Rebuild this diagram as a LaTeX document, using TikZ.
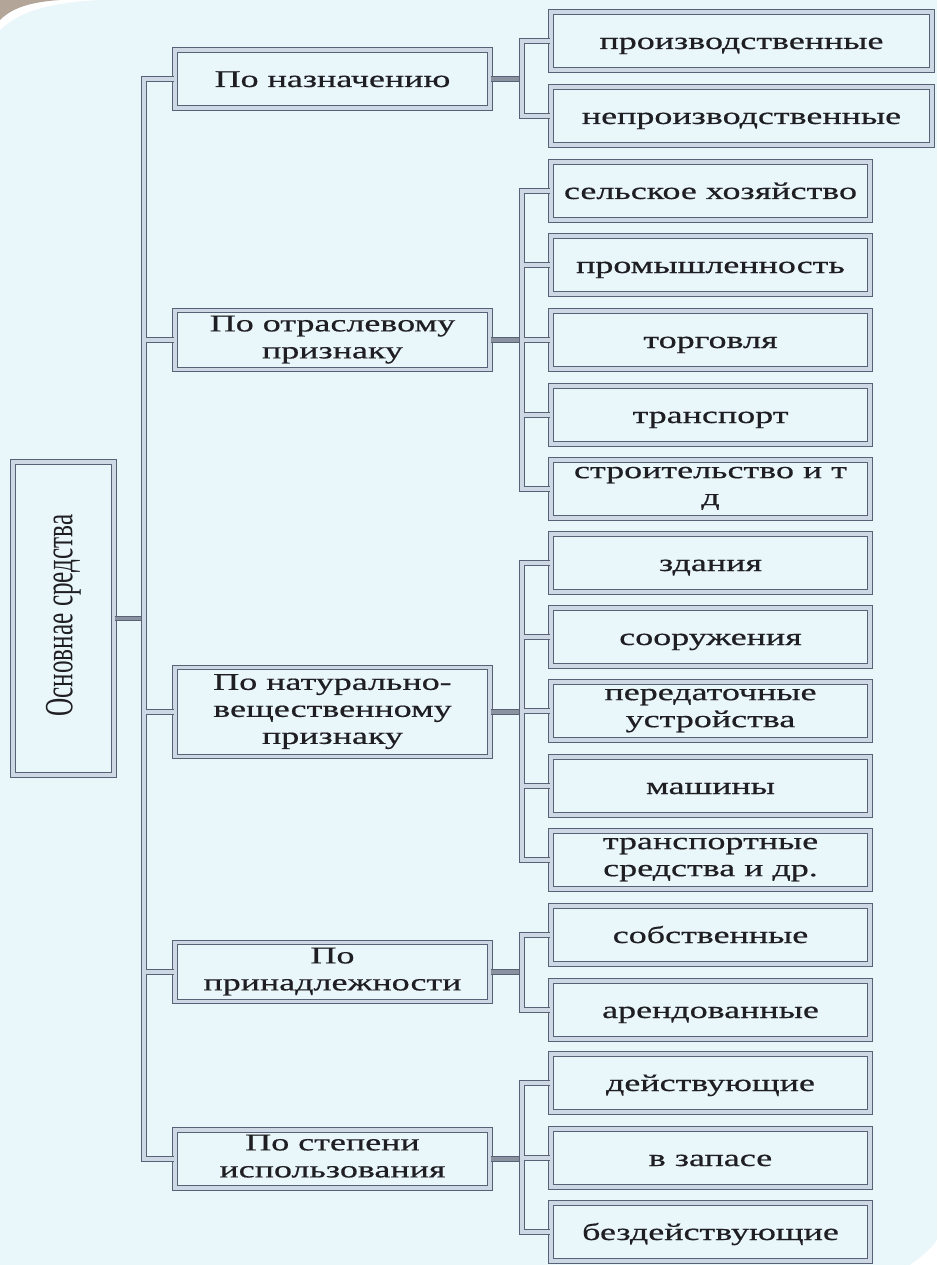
\documentclass[tikz,border=0pt]{standalone}
\usepackage{fontspec}
\setmainfont{Liberation Serif}[FakeStretch=1.5, FakeBold=0.6]
\newfontfamily\rootfont{Liberation Serif}[FakeStretch=0.63]
\definecolor{bgcol}{RGB}{234,247,250}
\definecolor{linecol}{RGB}{88,98,118}
\definecolor{gapcol}{RGB}{205,216,228}
\definecolor{txtcol}{RGB}{30,30,35}
\tikzset{
  box/.style={draw=linecol, line width=1.2pt, double=gapcol, double distance=3.5pt, fill=bgcol,
    inner sep=0pt, align=center, text=txtcol, font=\fontsize{24}{27}\selectfont,
    execute at begin node={\rule[-6pt]{0pt}{28pt}}, execute at end node={\rule[-6pt]{0pt}{6pt}}},
  group/.style={box, minimum width=315},
  leaf/.style={box, minimum width=319, minimum height=58},
  wideleaf/.style={box, minimum width=381, minimum height=58},
  link/.style={draw=linecol, line width=1.1pt, double=gapcol, double distance=3.5pt},
  stub/.style={link, double=linecol!70},
}
\begin{document}
\begin{tikzpicture}[x=1pt,y=-1pt]
\fill[bgcol] (0,0) rectangle (937,1265);
\useasboundingbox (0,0) rectangle (937,1265);
% page corners
\fill[white] (0,0) -- (0,30) .. controls (20,10) and (55,2) .. (100,0) -- cycle;
\fill[brown!30!gray!70] (0,0) -- (0,20) .. controls (12,8) and (30,2) .. (60,0) -- cycle;
\fill[white] (937,1265) -- (910,1265) .. controls (920,1258) and (930,1250) .. (937,1240) -- cycle;

\node[box, execute at begin node={}, execute at end node={}, minimum width=101, minimum height=313] (root) at (63.5,618.5)
  {\rotatebox{90}{\rootfont\fontsize{40}{40}\selectfont Основнае средства}};

\node[group, minimum height=58] (nazn) at (332.5,79) {По назначению};
\node[group, minimum height=59] (otrasl) at (332.5,340) {По отраслевому\\признаку};
\node[group, minimum height=89] (nat) at (332.5,712) {По натурально-\\вещественному\\признаку};
\node[group, minimum height=59] (prin) at (332.5,972) {По\\принадлежности};
\node[group, minimum height=58] (stp) at (332.5,1159) {По степени\\использования};

\node[wideleaf] (pr1) at (741.5,41) {производственные};
\node[wideleaf] (pr2) at (741.5,116) {непроизводственные};

\node[leaf] (ot1) at (710.5,191) {сельское хозяйство};
\node[leaf] (ot2) at (710.5,265) {промышленность};
\node[leaf] (ot3) at (710.5,340) {торговля};
\node[leaf] (ot4) at (710.5,415) {транспорт};
\node[leaf] (ot5) at (710.5,489) {строительство и т\\д};

\node[leaf] (nt1) at (710.5,563) {здания};
\node[leaf] (nt2) at (710.5,637) {сооружения};
\node[leaf] (nt3) at (710.5,711) {передаточные\\устройства};
\node[leaf] (nt4) at (710.5,786) {машины};
\node[leaf] (nt5) at (710.5,860) {транспортные\\средства и др.};

\node[leaf] (pn1) at (710.5,935) {собственные};
\node[leaf] (pn2) at (710.5,1010) {арендованные};

\node[leaf] (st1) at (710.5,1083) {действующие};
\node[leaf] (st2) at (710.5,1158) {в запасе};
\node[leaf] (st3) at (710.5,1232) {бездействующие};

\coordinate (bus) at (144,0);
\coordinate (rbus) at (522,0);
\draw[stub] (root.east) -- (root.east -| bus);
\draw[link] (nazn.west) -| (stp.west -| bus) -- (stp.west)
  (otrasl.west) -- (otrasl.west -| bus)
  (nat.west) -- (nat.west -| bus)
  (prin.west) -- (prin.west -| bus);
% right side
\draw[stub] (nazn.east) -- (nazn.east -| rbus);
\draw[stub] (otrasl.east) -- (otrasl.east -| rbus);
\draw[stub] (nat.east) -- (nat.east -| rbus);
\draw[stub] (prin.east) -- (prin.east -| rbus);
\draw[stub] (stp.east) -- (stp.east -| rbus);
\draw[link] (pr1.west) -| (pr2.west -| rbus) -- (pr2.west);
\draw[link] (ot1.west) -| (ot5.west -| rbus) -- (ot5.west)
  (ot2.west) -- (ot2.west -| rbus)
  (ot3.west) -- (ot3.west -| rbus)
  (ot4.west) -- (ot4.west -| rbus);
\draw[link] (nt1.west) -| (nt5.west -| rbus) -- (nt5.west)
  (nt2.west) -- (nt2.west -| rbus)
  (nt3.west) -- (nt3.west -| rbus)
  (nt4.west) -- (nt4.west -| rbus);
\draw[link] (pn1.west) -| (pn2.west -| rbus) -- (pn2.west);
\draw[link] (st1.west) -| (st3.west -| rbus) -- (st3.west)
  (st2.west) -- (st2.west -| rbus);
\end{tikzpicture}
\end{document}
